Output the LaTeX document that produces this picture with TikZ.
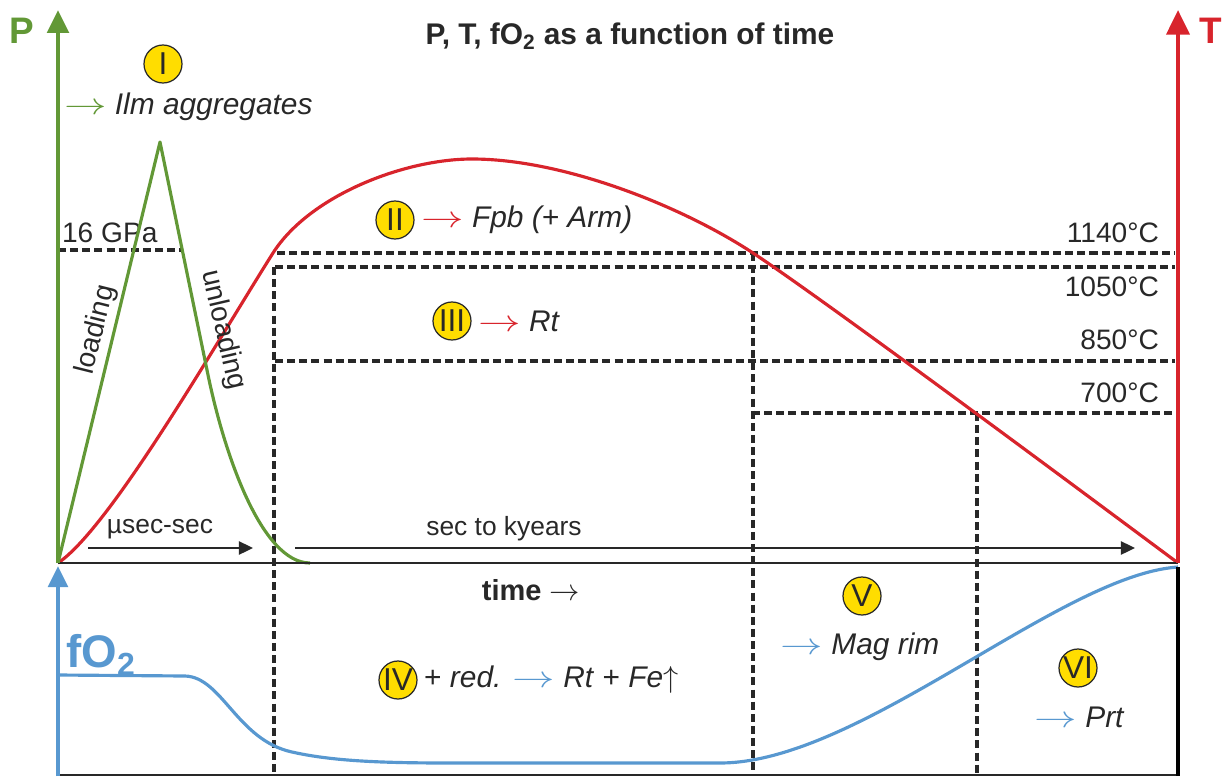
\documentclass[tikz,border=0pt]{standalone}
\usepackage{fontspec}
\setmainfont{Liberation Sans}
\usetikzlibrary{arrows.meta, positioning, calc}

\definecolor{pgreen}{RGB}{98,152,54}
\definecolor{tred}{RGB}{216,36,44}
\definecolor{oblue}{RGB}{88,152,208}
\definecolor{stagey}{RGB}{255,221,0}
\definecolor{ink}{RGB}{40,40,40}

\newcommand{\stagearrow}[1]{\textcolor{#1}{\scalebox{1.4}[1]{$\rightarrow$}}}

\tikzset{
  stagemark/.style={circle, draw=ink, line width=0.7pt, fill=stagey, minimum size=7.6mm, inner sep=0pt, text=ink, font=\fontsize{18}{18}\selectfont},
  phase/.style={inner sep=1pt, text=ink, font=\fontsize{17}{20}\selectfont},
  lbl/.style={inner sep=1pt, text=ink, font=\fontsize{16}{18}\selectfont},
  isoline/.style={ink, line width=2pt, dash pattern=on 4.6pt off 2.3pt},
  span/.style={ink, line width=1.1pt, -{Triangle[length=8pt,width=7.5pt]}},
}

\begin{document}
\begin{tikzpicture}[x=0.2mm, y=-0.2mm]
    \useasboundingbox (0,0) rectangle (1227,776);

    \coordinate (o) at (58,563);
    \coordinate (tend) at (1178,563);

    % Isotherms and stage borders
    \foreach \y/\x in {253/277, 267/275, 361/275, 413/752} {
        \draw[isoline] (\x,\y) -- (1175,\y);
    }
    \draw[isoline] (274,267) -- (274,776);
    \draw[isoline] (753,253) -- (753,776);
    \draw[isoline] (977,413) -- (977,776);
    \draw[isoline] (58,250) -- (183,250);

    \node[lbl, anchor=east] (t1140) at (1161,233) {1140°C};
    \node[lbl, anchor=east] (t1050) at (1161,287) {1050°C};
    \node[lbl, anchor=east] (t850) at (1161,340) {850°C};
    \node[lbl, anchor=east] (t700) at (1161,393) {700°C};
    \node[lbl, anchor=west] (gpa) at (60,233) {16 GPa};

    % Temperature path
    \draw[tred, line width=1.8pt] (o) .. controls (110,528) and (215,345) .. (273,253)
        .. controls (310,195) and (405,159) .. (472,159)
        .. controls (562,159) and (680,205) .. (753,253)
        .. controls (830,304) and (1100,505) .. (tend);

    % Pressure pulse
    \draw[pgreen, line width=1.8pt, line join=round] (o) -- (160,142) -- (207,370) .. controls (224,455) and (262,563) .. (310,563);
    \node[lbl, rotate=76] (loading) at (96,330) {loading};
    \node[lbl, rotate=-77] (unloading) at (223,330) {unloading};

    % Oxygen fugacity
    \draw[oblue, line width=1.8pt] (58,675) -- (185,676)
        .. controls (222,677) and (237,740) .. (292,752)
        .. controls (332,761) and (380,763) .. (450,763) -- (720,763)
        .. controls (860,763) and (1060,575) .. (1178,567);

    % Axes
    \draw[ink, line width=1.5pt] (o) -- (tend);
    \draw[ink, line width=0.6pt] (58,775) -- (1178,775);
    \draw[black, line width=2.2pt] (1178,567) -- (1178,776);
    \draw[pgreen, line width=2.8pt, -{Triangle[length=13pt,width=12pt]}] (o) -- (58,10);
    \draw[tred, line width=2.4pt, -{Triangle[length=14pt,width=13pt]}] (tend) -- (1178,10);
    \draw[oblue, line width=2.4pt, -{Triangle[length=12pt,width=11pt]}] (58,776) -- (58,566);

    \node[text=pgreen, font=\fontsize{21}{21}\selectfont\bfseries] (plab) at (22,31) {P};
    \node[text=tred, font=\fontsize{21}{21}\selectfont\bfseries] (tlab) at (1211,31) {T};
    \node[text=oblue, font=\fontsize{26}{26}\selectfont\bfseries, anchor=west, inner sep=0pt] (flab) at (66,655) {fO\textsubscript{2}};
    \node[text=ink, font=\fontsize{17}{17}\selectfont\bfseries] (title) at (630,36) {P, T, fO\textsubscript{2} as a function of time};
    \node[text=ink, font=\fontsize{16.5}{17}\selectfont\bfseries] (time) at (531,590) {time \mdseries$\rightarrow$};

    % Time spans
    \coordinate (s1a) at (88,548);
    \coordinate (s1b) at (253,548);
    \coordinate (s2a) at (295,548);
    \coordinate (s2b) at (1135,548);
    \draw[span] (s1a) -- (s1b);
    \draw[span] (s2a) -- (s2b);
    \node[lbl, font=\fontsize{15}{16}\selectfont] (fast) at (160,529) {µsec-sec};
    \node[lbl, font=\fontsize{15}{16}\selectfont] (slow) at (504,529) {sec to kyears};

    % Stages
    \node[stagemark] (sI) at (163,64) {I};
    \node[phase, anchor=west] (pI) at (62,107) {\stagearrow{pgreen} \itshape Ilm aggregates};
    \node[stagemark] (sII) at (395,220) {II};
    \node[phase, right=0.9mm of sII] (pII) {\stagearrow{tred} \itshape Fpb (+ Arm)};
    \node[stagemark] (sIII) at (452,321) {III};
    \node[phase, right=0.9mm of sIII] (pIII) {\stagearrow{tred} \itshape Rt};
    \node[stagemark] (sIV) at (398,680) {IV};
    \node[phase, right=0.9mm of sIV] (pIV) {+ \textit{red.} \stagearrow{oblue} \textit{Rt} + \textit{Fe}$\uparrow$};
    \node[stagemark] (sV) at (862,596) {V};
    \node[phase] (pV) at (860,647) {\stagearrow{oblue} \itshape Mag rim};
    \node[stagemark] (sVI) at (1078,668) {VI};
    \node[phase] (pVI) at (1079,717) {\stagearrow{oblue} \itshape Prt};
\end{tikzpicture}
\end{document}
